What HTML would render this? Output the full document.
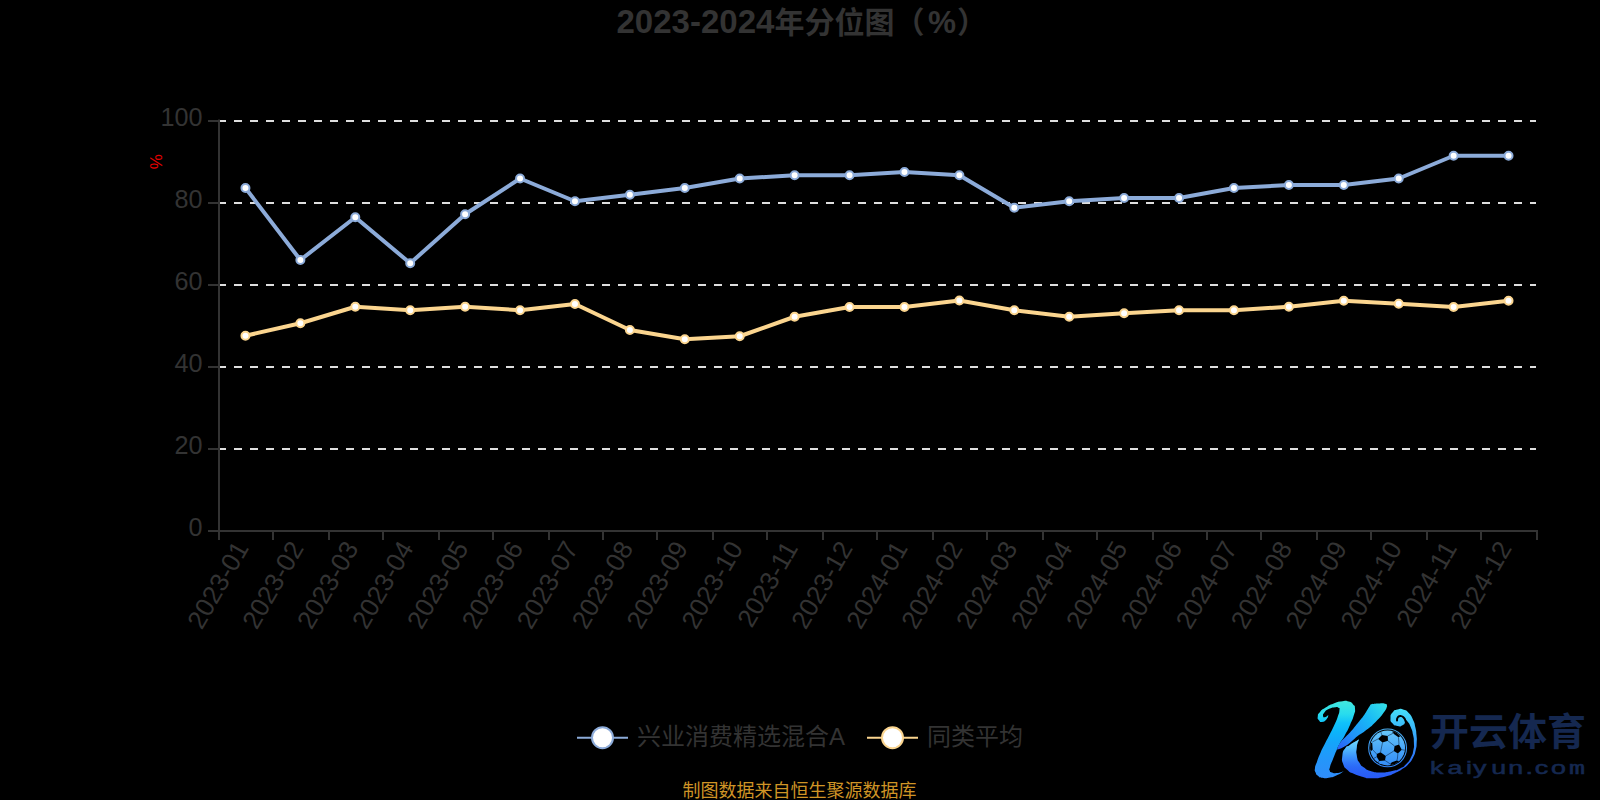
<!DOCTYPE html>
<html lang="zh-CN">
<head>
<meta charset="utf-8">
<title>2023-2024年分位图（%）</title>
<style>
html,body{margin:0;padding:0;background:#000;}
body{width:1600px;height:800px;overflow:hidden;}
svg{display:block;}
text{font-family:"Liberation Sans", "Noto Sans CJK SC", sans-serif;}
</style>
</head>
<body>
<svg width="1600" height="800" viewBox="0 0 1600 800">
<rect width="1600" height="800" fill="#000"/>
<text y="33" font-weight="bold" fill="#333"><tspan x="616.5" font-size="34" textLength="158" lengthAdjust="spacingAndGlyphs">2023-2024</tspan><tspan x="774.5" font-size="30">年分位图（</tspan><tspan x="928" font-size="31.5">%</tspan><tspan x="957" font-size="30">）</tspan></text>
<g stroke="#dedede" stroke-width="2" stroke-dasharray="8 8" fill="none">
<path d="M218.0 121H1536.0"/>
<path d="M218.0 203H1536.0"/>
<path d="M218.0 285H1536.0"/>
<path d="M218.0 367H1536.0"/>
<path d="M218.0 449H1536.0"/>
</g>
<g stroke="#333" stroke-width="2" fill="none">
<path d="M219.0 119.5V532"/>
<path d="M218.0 531H1538.0"/>
<path d="M208.0 121H219.0"/>
<path d="M208.0 203H219.0"/>
<path d="M208.0 285H219.0"/>
<path d="M208.0 367H219.0"/>
<path d="M208.0 449H219.0"/>
<path d="M208.0 531H219.0"/>
<path d="M219 531V540"/>
<path d="M273 531V540"/>
<path d="M329 531V540"/>
<path d="M383 531V540"/>
<path d="M439 531V540"/>
<path d="M493 531V540"/>
<path d="M549 531V540"/>
<path d="M603 531V540"/>
<path d="M657 531V540"/>
<path d="M713 531V540"/>
<path d="M767 531V540"/>
<path d="M823 531V540"/>
<path d="M877 531V540"/>
<path d="M933 531V540"/>
<path d="M987 531V540"/>
<path d="M1043 531V540"/>
<path d="M1097 531V540"/>
<path d="M1153 531V540"/>
<path d="M1207 531V540"/>
<path d="M1261 531V540"/>
<path d="M1317 531V540"/>
<path d="M1371 531V540"/>
<path d="M1427 531V540"/>
<path d="M1481 531V540"/>
<path d="M1537 531V540"/>
</g>
<g font-size="26" fill="#333" text-anchor="end">
<text transform="translate(202.5,126.25) scale(0.97,1)">100</text>
<text transform="translate(202.5,208.25) scale(0.97,1)">80</text>
<text transform="translate(202.5,290.25) scale(0.97,1)">60</text>
<text transform="translate(202.5,372.25) scale(0.97,1)">40</text>
<text transform="translate(202.5,454.25) scale(0.97,1)">20</text>
<text transform="translate(202.5,536.25) scale(0.97,1)">0</text>
</g>
<text transform="translate(162,161.7) rotate(-90)" text-anchor="middle" font-size="17" fill="#e60000">%</text>
<g font-size="26" fill="#333" text-anchor="end">
<text transform="translate(249.46,548.0) rotate(-60)">2023-01</text>
<text transform="translate(304.38,548.0) rotate(-60)">2023-02</text>
<text transform="translate(359.29,548.0) rotate(-60)">2023-03</text>
<text transform="translate(414.21,548.0) rotate(-60)">2023-04</text>
<text transform="translate(469.12,548.0) rotate(-60)">2023-05</text>
<text transform="translate(524.04,548.0) rotate(-60)">2023-06</text>
<text transform="translate(578.96,548.0) rotate(-60)">2023-07</text>
<text transform="translate(633.88,548.0) rotate(-60)">2023-08</text>
<text transform="translate(688.79,548.0) rotate(-60)">2023-09</text>
<text transform="translate(743.71,548.0) rotate(-60)">2023-10</text>
<text transform="translate(798.62,548.0) rotate(-60)">2023-11</text>
<text transform="translate(853.54,548.0) rotate(-60)">2023-12</text>
<text transform="translate(908.46,548.0) rotate(-60)">2024-01</text>
<text transform="translate(963.38,548.0) rotate(-60)">2024-02</text>
<text transform="translate(1018.29,548.0) rotate(-60)">2024-03</text>
<text transform="translate(1073.21,548.0) rotate(-60)">2024-04</text>
<text transform="translate(1128.12,548.0) rotate(-60)">2024-05</text>
<text transform="translate(1183.04,548.0) rotate(-60)">2024-06</text>
<text transform="translate(1237.96,548.0) rotate(-60)">2024-07</text>
<text transform="translate(1292.88,548.0) rotate(-60)">2024-08</text>
<text transform="translate(1347.79,548.0) rotate(-60)">2024-09</text>
<text transform="translate(1402.71,548.0) rotate(-60)">2024-10</text>
<text transform="translate(1457.62,548.0) rotate(-60)">2024-11</text>
<text transform="translate(1512.54,548.0) rotate(-60)">2024-12</text>
</g>
<polyline points="245.46,188 300.38,260 355.29,217.25 410.21,263.25 465.12,214.25 520.04,178.5 574.96,201.25 629.88,194.75 684.79,188 739.71,178.5 794.62,175.25 849.54,175.25 904.46,172 959.38,175.25 1014.29,207.75 1069.21,201.25 1124.12,198 1179.04,198 1233.96,188 1288.88,185 1343.79,185 1398.71,178.5 1453.62,155.75 1508.54,155.75" fill="none" stroke="#8cabd9" stroke-width="4" stroke-linejoin="bevel"/>
<g fill="#fff" stroke="#8cabd9" stroke-width="2">
<circle cx="245.46" cy="188" r="4"/>
<circle cx="300.38" cy="260" r="4"/>
<circle cx="355.29" cy="217.25" r="4"/>
<circle cx="410.21" cy="263.25" r="4"/>
<circle cx="465.12" cy="214.25" r="4"/>
<circle cx="520.04" cy="178.5" r="4"/>
<circle cx="574.96" cy="201.25" r="4"/>
<circle cx="629.88" cy="194.75" r="4"/>
<circle cx="684.79" cy="188" r="4"/>
<circle cx="739.71" cy="178.5" r="4"/>
<circle cx="794.62" cy="175.25" r="4"/>
<circle cx="849.54" cy="175.25" r="4"/>
<circle cx="904.46" cy="172" r="4"/>
<circle cx="959.38" cy="175.25" r="4"/>
<circle cx="1014.29" cy="207.75" r="4"/>
<circle cx="1069.21" cy="201.25" r="4"/>
<circle cx="1124.12" cy="198" r="4"/>
<circle cx="1179.04" cy="198" r="4"/>
<circle cx="1233.96" cy="188" r="4"/>
<circle cx="1288.88" cy="185" r="4"/>
<circle cx="1343.79" cy="185" r="4"/>
<circle cx="1398.71" cy="178.5" r="4"/>
<circle cx="1453.62" cy="155.75" r="4"/>
<circle cx="1508.54" cy="155.75" r="4"/>
</g>
<polyline points="245.46,335.75 300.38,323.25 355.29,306.75 410.21,310.25 465.12,306.75 520.04,310.25 574.96,304 629.88,330 684.79,339.25 739.71,336.25 794.62,316.75 849.54,307 904.46,307 959.38,300.5 1014.29,310.25 1069.21,316.75 1124.12,313.25 1179.04,310.25 1233.96,310.25 1288.88,306.75 1343.79,300.75 1398.71,303.75 1453.62,307 1508.54,300.75" fill="none" stroke="#fbd58f" stroke-width="4" stroke-linejoin="bevel"/>
<g fill="#fff" stroke="#fbd58f" stroke-width="2">
<circle cx="245.46" cy="335.75" r="4"/>
<circle cx="300.38" cy="323.25" r="4"/>
<circle cx="355.29" cy="306.75" r="4"/>
<circle cx="410.21" cy="310.25" r="4"/>
<circle cx="465.12" cy="306.75" r="4"/>
<circle cx="520.04" cy="310.25" r="4"/>
<circle cx="574.96" cy="304" r="4"/>
<circle cx="629.88" cy="330" r="4"/>
<circle cx="684.79" cy="339.25" r="4"/>
<circle cx="739.71" cy="336.25" r="4"/>
<circle cx="794.62" cy="316.75" r="4"/>
<circle cx="849.54" cy="307" r="4"/>
<circle cx="904.46" cy="307" r="4"/>
<circle cx="959.38" cy="300.5" r="4"/>
<circle cx="1014.29" cy="310.25" r="4"/>
<circle cx="1069.21" cy="316.75" r="4"/>
<circle cx="1124.12" cy="313.25" r="4"/>
<circle cx="1179.04" cy="310.25" r="4"/>
<circle cx="1233.96" cy="310.25" r="4"/>
<circle cx="1288.88" cy="306.75" r="4"/>
<circle cx="1343.79" cy="300.75" r="4"/>
<circle cx="1398.71" cy="303.75" r="4"/>
<circle cx="1453.62" cy="307" r="4"/>
<circle cx="1508.54" cy="300.75" r="4"/>
</g>
<g>
<path d="M577 737.7H628" stroke="#8cabd9" stroke-width="2"/><circle cx="602.5" cy="737.7" r="10.5" fill="#fff" stroke="#8cabd9" stroke-width="2"/>
<text x="637" y="745.2" font-size="24" fill="#333">兴业消费精选混合A</text>
<path d="M867 737.7H918" stroke="#fbd58f" stroke-width="2"/><circle cx="892.5" cy="737.7" r="10.5" fill="#fff" stroke="#fbd58f" stroke-width="2"/>
<text x="927" y="745.2" font-size="24" fill="#333">同类平均</text>
</g>
<text x="799.4" y="797" text-anchor="middle" font-size="18" fill="#cf9426">制图数据来自恒生聚源数据库</text>
<defs>
<linearGradient id="lgK" gradientUnits="userSpaceOnUse" x1="0" y1="701" x2="0" y2="779"><stop offset="0" stop-color="#42e8de"/><stop offset="0.167" stop-color="#28dcee"/><stop offset="0.28" stop-color="#10c2fa"/><stop offset="0.4" stop-color="#0cb4fa"/><stop offset="0.526" stop-color="#14a5fa"/><stop offset="0.756" stop-color="#2496fa"/><stop offset="1" stop-color="#308cfa"/></linearGradient>
<linearGradient id="lgA" gradientUnits="userSpaceOnUse" x1="1386" y1="704" x2="1338" y2="750"><stop offset="0" stop-color="#34e0e8"/><stop offset="0.35" stop-color="#18b8f6"/><stop offset="0.7" stop-color="#2090fa"/><stop offset="1" stop-color="#2a5cf8"/></linearGradient>
<linearGradient id="lgS" gradientUnits="userSpaceOnUse" x1="0" y1="709" x2="0" y2="779"><stop offset="0" stop-color="#46e0fa"/><stop offset="0.23" stop-color="#3cbefa"/><stop offset="0.37" stop-color="#38aafa"/><stop offset="0.55" stop-color="#328cfa"/><stop offset="0.75" stop-color="#2c70f8"/><stop offset="1" stop-color="#2858f6"/></linearGradient>
<linearGradient id="lgB" gradientUnits="userSpaceOnUse" x1="0" y1="730" x2="0" y2="766"><stop offset="0" stop-color="#68c8fa"/><stop offset="0.5" stop-color="#4aa8f8"/><stop offset="1" stop-color="#348cf8"/></linearGradient>
<linearGradient id="lgT" gradientUnits="userSpaceOnUse" x1="0" y1="739" x2="0" y2="768"><stop offset="0" stop-color="#7ae0ff" stop-opacity="0.95"/><stop offset="0.35" stop-color="#5cc8ff" stop-opacity="0.75"/><stop offset="0.7" stop-color="#44a4ff" stop-opacity="0.4"/><stop offset="1" stop-color="#3080ff" stop-opacity="0"/></linearGradient>
<linearGradient id="lgR" gradientUnits="userSpaceOnUse" x1="0" y1="728" x2="0" y2="768"><stop offset="0" stop-color="#4cb4f6"/><stop offset="1" stop-color="#2f80f4"/></linearGradient>
<clipPath id="cpB"><circle cx="1387.6" cy="747.9" r="17.5"/></clipPath>
<clipPath id="cpL"><rect x="1338" y="735" width="26" height="46"/></clipPath>
</defs>
<g id="logo">
<path d="M1358.90 739.60C1355.93 741.40 1354.63 741.95 1350.00 745.00C1345.37 748.05 1347.50 745.22 1345.00 748.75C1342.50 752.28 1343.13 750.60 1342.50 755.60C1341.87 760.60 1341.43 758.95 1343.10 763.75C1344.77 768.55 1343.95 766.67 1347.50 770.00C1351.05 773.33 1348.55 771.45 1353.75 773.75C1358.95 776.05 1357.27 775.40 1363.10 776.90C1368.93 778.40 1364.03 778.30 1371.25 778.25C1378.47 778.20 1376.50 778.63 1384.75 776.75C1393.00 774.87 1389.92 775.32 1396.00 772.60C1402.08 769.88 1398.92 771.38 1403.00 768.60C1407.08 765.82 1404.88 767.95 1408.25 764.25C1411.62 760.55 1410.60 762.25 1413.10 757.50C1415.60 752.75 1414.55 755.00 1415.75 750.00C1416.95 745.00 1416.45 747.50 1416.70 742.50C1416.95 737.50 1416.93 740.00 1416.50 735.00C1416.07 730.00 1416.53 732.50 1415.40 727.50C1414.27 722.50 1415.32 724.80 1413.10 720.00C1410.88 715.20 1411.87 716.53 1408.75 713.10C1405.63 709.67 1407.50 710.93 1403.75 709.70C1400.00 708.47 1401.25 708.47 1397.50 709.40C1393.75 710.33 1394.83 709.60 1392.50 712.50C1390.17 715.40 1390.53 714.50 1390.50 718.10C1390.47 721.70 1390.07 720.63 1392.40 723.30C1394.73 725.97 1394.13 725.47 1397.50 726.10C1400.87 726.73 1400.00 726.50 1402.50 725.20C1405.00 723.90 1404.23 724.00 1405.00 722.20C1405.77 720.40 1404.87 720.60 1404.80 719.80C1405.70 720.37 1405.47 718.93 1407.50 721.50C1409.53 724.07 1409.03 723.00 1410.90 727.50C1412.77 732.00 1412.10 730.00 1413.10 735.00C1414.10 740.00 1413.80 737.50 1413.90 742.50C1414.00 747.50 1414.40 745.00 1413.40 750.00C1412.40 755.00 1413.37 752.75 1410.90 757.50C1408.43 762.25 1409.47 760.68 1406.00 764.25C1402.53 767.82 1405.08 765.95 1400.50 768.20C1395.92 770.45 1398.75 769.60 1392.25 771.00C1385.75 772.40 1388.25 772.40 1381.00 772.40C1373.75 772.40 1376.17 772.60 1370.50 771.00C1364.83 769.40 1367.63 770.27 1364.00 767.60C1360.37 764.93 1361.97 766.70 1359.60 763.00C1357.23 759.30 1357.87 761.67 1356.90 756.50C1355.93 751.33 1356.03 753.13 1356.70 747.50C1357.37 741.87 1358.17 742.23 1358.90 739.60Z" fill="url(#lgS)"/>
<path d="M1358.90 739.60C1355.93 741.40 1354.63 741.95 1350.00 745.00C1345.37 748.05 1347.50 745.22 1345.00 748.75C1342.50 752.28 1343.13 750.60 1342.50 755.60C1341.87 760.60 1341.43 758.95 1343.10 763.75C1344.77 768.55 1343.95 766.67 1347.50 770.00C1351.05 773.33 1348.55 771.45 1353.75 773.75C1358.95 776.05 1357.27 775.40 1363.10 776.90C1368.93 778.40 1364.03 778.30 1371.25 778.25C1378.47 778.20 1376.50 778.63 1384.75 776.75C1393.00 774.87 1389.92 775.32 1396.00 772.60C1402.08 769.88 1398.92 771.38 1403.00 768.60C1407.08 765.82 1404.88 767.95 1408.25 764.25C1411.62 760.55 1410.60 762.25 1413.10 757.50C1415.60 752.75 1414.55 755.00 1415.75 750.00C1416.95 745.00 1416.45 747.50 1416.70 742.50C1416.95 737.50 1416.93 740.00 1416.50 735.00C1416.07 730.00 1416.53 732.50 1415.40 727.50C1414.27 722.50 1415.32 724.80 1413.10 720.00C1410.88 715.20 1411.87 716.53 1408.75 713.10C1405.63 709.67 1407.50 710.93 1403.75 709.70C1400.00 708.47 1401.25 708.47 1397.50 709.40C1393.75 710.33 1394.83 709.60 1392.50 712.50C1390.17 715.40 1390.53 714.50 1390.50 718.10C1390.47 721.70 1390.07 720.63 1392.40 723.30C1394.73 725.97 1394.13 725.47 1397.50 726.10C1400.87 726.73 1400.00 726.50 1402.50 725.20C1405.00 723.90 1404.23 724.00 1405.00 722.20C1405.77 720.40 1404.87 720.60 1404.80 719.80C1405.70 720.37 1405.47 718.93 1407.50 721.50C1409.53 724.07 1409.03 723.00 1410.90 727.50C1412.77 732.00 1412.10 730.00 1413.10 735.00C1414.10 740.00 1413.80 737.50 1413.90 742.50C1414.00 747.50 1414.40 745.00 1413.40 750.00C1412.40 755.00 1413.37 752.75 1410.90 757.50C1408.43 762.25 1409.47 760.68 1406.00 764.25C1402.53 767.82 1405.08 765.95 1400.50 768.20C1395.92 770.45 1398.75 769.60 1392.25 771.00C1385.75 772.40 1388.25 772.40 1381.00 772.40C1373.75 772.40 1376.17 772.60 1370.50 771.00C1364.83 769.40 1367.63 770.27 1364.00 767.60C1360.37 764.93 1361.97 766.70 1359.60 763.00C1357.23 759.30 1357.87 761.67 1356.90 756.50C1355.93 751.33 1356.03 753.13 1356.70 747.50C1357.37 741.87 1358.17 742.23 1358.90 739.60Z" fill="url(#lgT)" clip-path="url(#cpL)"/>
<path d="M1397 720.6C1397.27 719.53 1396.50 718.90 1397.80 717.40C1399.10 715.90 1398.83 715.90 1400.90 716.10C1402.97 716.30 1402.37 716.17 1404.00 718.00C1405.63 719.83 1404.73 719.60 1405.80 721.60C1406.87 723.60 1406.73 723.20 1407.20 724.00" fill="none" stroke="#000" stroke-width="2" stroke-linecap="round"/>
<path d="M1370.60 704.40C1373.07 704.13 1373.20 703.82 1378.00 703.60C1382.80 703.38 1381.93 702.98 1385.00 703.75C1388.07 704.52 1386.47 705.18 1387.20 705.90C1386.05 708.10 1387.62 707.17 1383.75 712.50C1379.88 717.83 1381.43 716.07 1375.60 721.90C1369.77 727.73 1372.12 725.37 1366.25 730.00C1360.38 734.63 1362.38 732.47 1358.00 735.80C1353.62 739.13 1357.43 736.52 1353.10 740.00C1348.77 743.48 1350.40 743.02 1345.00 746.25C1339.60 749.48 1339.60 748.55 1336.90 749.70C1337.93 747.50 1337.30 747.17 1340.00 743.10C1342.70 739.03 1341.67 741.03 1345.00 737.50C1348.33 733.97 1346.67 736.17 1350.00 732.50C1353.33 728.83 1351.67 730.57 1355.00 726.50C1358.33 722.43 1357.08 723.93 1360.00 720.30C1362.92 716.67 1360.83 719.87 1363.75 715.60C1366.67 711.33 1366.47 711.23 1368.75 707.50C1371.03 703.77 1369.98 705.43 1370.60 704.40Z" fill="url(#lgA)"/>
<path d="M1328.40 715.10C1327.80 716.47 1328.67 716.93 1326.60 719.20C1324.53 721.47 1324.77 721.57 1322.20 721.90C1319.63 722.23 1320.37 722.07 1318.90 720.20C1317.43 718.33 1317.43 719.07 1317.80 716.30C1318.17 713.53 1317.40 714.83 1320.00 711.90C1322.60 708.97 1321.02 710.33 1325.60 707.50C1330.18 704.67 1328.12 705.48 1333.75 703.40C1339.38 701.32 1337.50 701.85 1342.50 701.25C1347.50 700.65 1345.22 700.55 1348.75 701.60C1352.28 702.65 1351.02 702.13 1353.10 704.40C1355.18 706.67 1354.78 704.67 1355.00 708.40C1355.22 712.13 1355.42 710.07 1353.75 715.60C1352.08 721.13 1352.92 718.53 1350.00 725.00C1347.08 731.47 1348.33 728.97 1345.00 735.00C1341.67 741.03 1342.70 738.30 1340.00 743.10C1337.30 747.90 1339.20 744.18 1336.90 749.40C1334.60 754.62 1335.40 752.92 1333.10 758.75C1330.80 764.58 1331.13 762.95 1330.00 766.90C1328.87 770.85 1329.07 768.73 1329.70 770.60C1330.33 772.47 1329.50 771.67 1331.90 772.50C1334.30 773.33 1332.95 773.52 1336.90 773.10C1340.85 772.68 1341.47 771.87 1343.75 771.25C1341.25 772.70 1341.25 773.42 1336.25 775.60C1331.25 777.78 1333.33 777.07 1328.75 777.80C1324.17 778.53 1326.05 778.43 1322.50 777.80C1318.95 777.17 1320.40 777.67 1318.10 775.90C1315.80 774.13 1316.63 775.10 1315.60 772.50C1314.57 769.90 1314.57 771.63 1315.00 768.10C1315.43 764.57 1315.03 767.10 1316.90 761.90C1318.77 756.70 1317.90 758.63 1320.60 752.50C1323.30 746.37 1322.07 749.33 1325.00 743.50C1327.93 737.67 1326.48 740.75 1329.40 735.00C1332.32 729.25 1331.05 732.08 1333.75 726.25C1336.45 720.42 1335.62 722.72 1337.50 717.50C1339.38 712.28 1339.10 713.83 1339.40 710.60C1339.70 707.37 1339.87 708.93 1338.40 707.80C1336.93 706.67 1338.22 706.77 1335.00 707.20C1331.78 707.63 1332.28 707.33 1328.75 709.10C1325.22 710.87 1326.28 710.23 1324.40 712.50C1322.52 714.77 1322.90 714.33 1323.10 715.90C1323.30 717.47 1323.23 717.47 1325.00 717.20C1326.77 716.93 1327.27 715.80 1328.40 715.10Z" fill="url(#lgK)"/>
<circle cx="1387.6" cy="747.9" r="18.9" fill="none" stroke="url(#lgR)" stroke-width="1.1"/>
<circle cx="1387.6" cy="747.9" r="17.5" fill="url(#lgB)"/>
<g clip-path="url(#cpB)">
<polygon points="1381.95,735.08 1387.73,735.90 1388.00,740.85 1382.50,742.50 1378.10,738.93" fill="#000"/>
<polygon points="1394.60,746.08 1399.00,744.43 1401.75,749.65 1397.90,753.50 1393.78,751.03" fill="#000"/>
<polygon points="1376.73,754.05 1380.58,752.13 1385.80,755.98 1384.98,760.38 1379.20,760.93 1376.73,756.80" fill="#000"/>
<polygon points="1392.68,730.68 1395.98,731.78 1400.38,736.18 1398.45,737.28 1393.50,733.70" fill="#000"/>
<polygon points="1390.20,763.95 1391.85,762.30 1396.80,760.38 1399.83,761.20 1396.80,764.50 1391.30,765.60" fill="#000"/>
<polygon points="1369.30,744.15 1372.16,742.39 1372.71,749.38 1371.23,751.03 1369.30,749.10" fill="#000"/>
<g stroke="#04142e" stroke-width="0.5" fill="none">
<path d="M1382.50 742.50L1380.58 752.13"/>
<path d="M1388.00 740.85L1394.60 746.08"/>
<path d="M1393.78 751.03L1385.80 755.98"/>
<path d="M1378.10 738.93L1372.33 741.95"/>
<path d="M1372.60 749.65L1376.73 754.05"/>
<path d="M1381.95 735.08L1380.85 732.05"/>
<path d="M1387.73 735.90L1392.40 733.70"/>
<path d="M1392.40 733.70L1392.95 731.23"/>
<path d="M1399.00 744.43L1398.45 737.28"/>
<path d="M1401.75 749.65L1406.15 750.48"/>
<path d="M1397.90 753.50L1397.35 759.00"/>
<path d="M1397.35 759.00L1396.80 760.38"/>
<path d="M1384.98 760.38L1390.20 763.95"/>
<path d="M1379.20 760.93L1377.83 762.85"/>
<path d="M1376.73 756.80L1372.60 759.00"/>
</g></g>
<text x="1430" y="744.6" font-size="38" font-weight="bold" fill="#152850" textLength="156" lengthAdjust="spacingAndGlyphs">开云体育</text>
<text transform="translate(1430,773.7) scale(1.45,1)" font-size="18.5" fill="#152850" stroke="#152850" stroke-width="0.55" x="0 12.14 24.83 29.72 42.28 53.93 65.93 72.28 83.52 95.9">kaiyun.co<tspan font-family="Liberation Mono, monospace">m</tspan></text>
</g>
</svg>
</body>
</html>
